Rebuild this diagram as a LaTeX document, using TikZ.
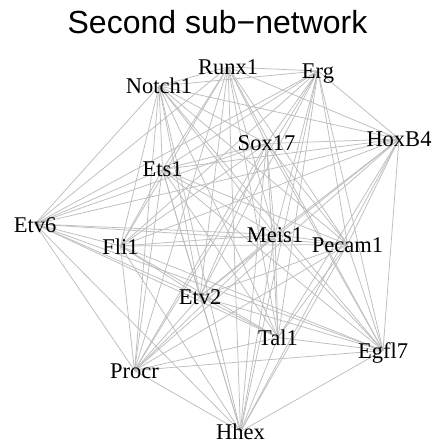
\documentclass[tikz,border=0pt]{standalone}
\usepackage{fontspec}
\setmainfont{Liberation Serif}
\newfontfamily\titlefont{Liberation Sans}
\definecolor{edgegray}{RGB}{190,190,190}
\begin{document}
\begin{tikzpicture}[x=1pt,y=-1pt,
  edge/.style={draw=edgegray,line width=0.75pt},
  gene/.style={anchor=base,inner sep=0pt,font=\fontsize{22.5}{27}\selectfont},
  heading/.style={anchor=base,inner sep=0pt,font=\titlefont\fontsize{32}{38}\selectfont}]
\useasboundingbox (0,0) rectangle (438,446);
\fill[white] (0,0) rectangle (438,446);

% vertex positions (centre of each gene label)
\coordinate (runx)   at (228,67);
\coordinate (erg)    at (318,71);
\coordinate (notch)  at (159,86);
\coordinate (hoxb)   at (399,139);
\coordinate (sox)    at (266.5,143.5);
\coordinate (ets)    at (162.5,169.5);
\coordinate (etvsix) at (35,224);
\coordinate (fli)    at (120.5,246);
\coordinate (meis)   at (275,234.5);
\coordinate (pecam)  at (347.5,244.5);
\coordinate (etvtwo) at (200,296.5);
\coordinate (tal)    at (278,337.5);
\coordinate (egfl)   at (383,350.5);
\coordinate (procr)  at (134.5,370.5);
\coordinate (hhex)   at (240.5,431.5);

% edges: every pair of genes is linked
\foreach \a [count=\i] in {runx,erg,notch,hoxb,sox,ets,etvsix,fli,meis,pecam,etvtwo,tal,egfl,procr,hhex}{
  \foreach \b [count=\j] in {runx,erg,notch,hoxb,sox,ets,etvsix,fli,meis,pecam,etvtwo,tal,egfl,procr,hhex}{
    \ifnum\j>\i \draw[edge] (\a) -- (\b);\fi
  }
}

% gene labels, set on their baselines
\node[gene] (lrunx)   at (228,75)    {Runx1};
\node[gene] (lerg)    at (318,79)    {Erg};
\node[gene] (lnotch)  at (159,94)    {Notch1};
\node[gene] (lhoxb)   at (399,147)   {HoxB4};
\node[gene] (lsox)    at (266.5,151) {Sox17};
\node[gene] (lets)    at (162.5,177) {Ets1};
\node[gene] (letvsix) at (35,232)    {Etv6};
\node[gene] (lfli)    at (120.5,254) {Fli1};
\node[gene] (lmeis)   at (275,242)   {Meis1};
\node[gene] (lpecam)  at (347.5,252) {Pecam1};
\node[gene] (letvtwo) at (200,304)   {Etv2};
\node[gene] (ltal)    at (278,345)   {Tal1};
\node[gene] (legfl)   at (383,358)   {Egfl7};
\node[gene] (lprocr)  at (134.5,378) {Procr};
\node[gene] (lhhex)   at (240.5,439) {Hhex};

% title
\node[heading] (title) at (217.5,33.5) {Second sub−network};
\end{tikzpicture}
\end{document}
